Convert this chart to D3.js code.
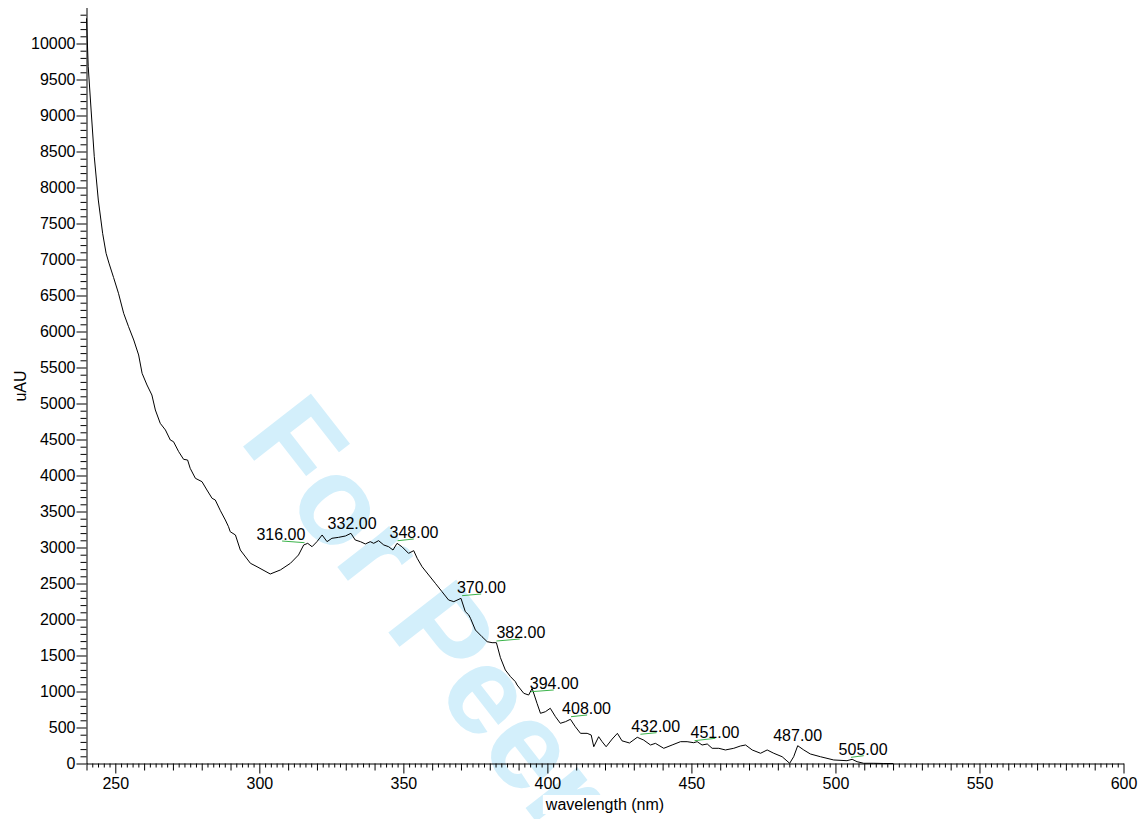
<!DOCTYPE html>
<html>
<head>
<meta charset="utf-8">
<script src="https://cdn.jsdelivr.net/npm/d3@7"></script>
<style>
  html, body { margin: 0; padding: 0; background: #fff; }
  svg { display: block; }
  text { font-family: "Liberation Sans", Arial, sans-serif; }
</style>
</head>
<body>
<svg id="chart" width="1143" height="819"></svg>
<script>
// ---- data ----
const wavelength = [
  240.0, 240.6, 241.6, 242.7, 244.1, 245.6, 246.8, 247.8, 249.4, 251.1,
  252.9, 254.6, 256.4, 258.1, 259.3, 261.0, 262.7, 263.9, 265.6, 267.4,
  269.1, 270.2, 272.0, 273.7, 275.1, 276.0, 277.8, 280.1, 281.8, 283.6,
  284.7, 286.5, 288.2, 289.3, 289.9, 291.7, 293.4, 296.9, 299.2, 303.8,
  307.3, 310.8, 313.6, 315.4, 316.8, 318.3, 320.0, 321.8, 323.5, 325.2,
  327.5, 329.9, 331.8, 333.3, 335.1, 336.8, 338.5, 339.7, 341.4, 343.2,
  344.9, 346.4, 347.8, 349.5, 351.8, 353.6, 354.8, 356.5, 358.8, 361.1,
  363.4, 365.7, 367.5, 370.0, 371.5, 372.7, 373.3, 375.0, 377.3, 379.1,
  380.8, 382.3, 383.7, 385.4, 387.2, 388.9, 389.5, 391.8, 393.5, 394.7,
  396.4, 397.6, 399.3, 401.0, 402.8, 404.5, 406.3, 408.0, 409.7, 411.5,
  413.8, 415.2, 416.1, 417.8, 419.0, 420.4, 422.5, 424.3, 425.9, 428.5,
  431.2, 433.4, 435.8, 437.5, 440.4, 443.3, 446.2, 448.5, 450.8, 452.0,
  453.7, 455.5, 457.2, 459.5, 461.8, 464.7, 467.0, 468.8, 471.1, 474.0,
  476.3, 478.6, 481.5, 484.1, 485.5, 486.9, 489.0, 491.3, 494.8, 499.4,
  504.0, 505.8, 507.5, 509.8, 513.3, 516.8, 520.0
];
const absorbance = [
  10350, 9678, 9076, 8428, 7826, 7364, 7086, 6950, 6750, 6531,
  6253, 6067, 5882, 5674, 5419, 5257, 5118, 4910, 4725, 4632,
  4493, 4470, 4331, 4225, 4215, 4100, 3961, 3914, 3799, 3683,
  3660, 3510, 3382, 3289, 3219, 3174, 2965, 2781, 2733, 2632,
  2688, 2781, 2896, 3035, 3058, 3011, 3081, 3174, 3081, 3128,
  3141, 3160, 3197, 3104, 3081, 3049, 3081, 3058, 3095, 3035,
  3011, 2965, 3058, 3011, 2919, 2956, 2850, 2733, 2618, 2503,
  2387, 2271, 2248, 2294, 2110, 2063, 2017, 1854, 1761, 1692,
  1678, 1678, 1470, 1299, 1206, 1136, 1090, 975, 951, 1044,
  836, 697, 719, 767, 650, 558, 581, 614, 511, 419,
  419, 396, 233, 372, 303, 233, 340, 419, 315, 285,
  364, 326, 257, 280, 211, 257, 303, 303, 289, 303,
  257, 271, 211, 211, 188, 211, 243, 257, 188, 142,
  188, 142, 94, 3, 94, 247, 188, 132, 94, 49,
  39, 58, 25, 3, 3, 0, 0
];

// peak labels: text, label anchor (wavelength, uAU) of text start/baseline
const peakLabels = ["316.00", "332.00", "348.00", "370.00", "382.00", "394.00", "408.00", "432.00", "451.00", "487.00", "505.00"];
const labelNm    = [299.0, 323.7, 345.2, 368.6, 382.3, 393.9, 405.1, 429.1, 449.7, 478.4, 501.1];
const labelVal   = [3104, 3253, 3128, 2364, 1739, 1035, 688, 433, 350, 313, 118];

// green baseline marks under the labels: [nm1, v1, nm2, v2]
const baseNm1 = [307.9, 348.0, 370.4, 382.3, 394.3, 408.2, 432.3, 451.1, 505.4];
const baseV1  = [3090, 3094, 2331, 1701, 997, 650, 406, 317, 86];
const baseNm2 = [315.7, 353.6, 377.0, 390.4, 402.2, 413.8, 437.9, 458.3, 509.8];
const baseV2  = [3067, 3118, 2354, 1729, 1021, 674, 428, 350, 108];

const xMajorTicks = d3.range(250, 601, 50);
const yMajorTicks = d3.range(0, 10001, 500);

// ---- chart ----
const svg = d3.select("#chart");
const x = d3.scaleLinear().domain([240, 600]).range([86.5, 1123.5]);
const y = d3.scaleLinear().domain([0, 10500]).range([763.5, 7.5]);

// watermark (behind everything)
svg.append("text")
  .attr("transform", "translate(238,440) rotate(52)")
  .attr("font-size", 125)
  .attr("font-weight", "bold")
  .attr("fill", "#d3effb")
  .text("For Peer");

// y axis minor ticks
const yMinor = d3.range(0, 10501, 100).filter(v => v % 500 !== 0);
svg.append("g")
  .attr("transform", `translate(${x(240)},0)`)
  .call(d3.axisLeft(y).tickValues(yMinor).tickSize(6).tickFormat("").tickSizeOuter(0))
  .call(g => g.select(".domain").remove());

// y axis major
svg.append("g")
  .attr("transform", `translate(${x(240)},0)`)
  .call(d3.axisLeft(y).tickValues(yMajorTicks).tickSize(10).tickPadding(1).tickFormat(d3.format("d")).tickSizeOuter(0))
  .call(g => g.selectAll("text").attr("font-size", 16).attr("fill", "#000").style("font-family", '"Liberation Sans", Arial, sans-serif'));

// x axis minor (every 2) and medium (every 10)
const xMinor = d3.range(240, 601, 2).filter(v => v % 10 !== 0);
const xMed = d3.range(240, 601, 10).filter(v => v % 50 !== 0);
svg.append("g")
  .attr("transform", `translate(0,${y(0)})`)
  .call(d3.axisBottom(x).tickValues(xMinor).tickSize(4).tickFormat("").tickSizeOuter(0))
  .call(g => g.select(".domain").remove());
svg.append("g")
  .attr("transform", `translate(0,${y(0)})`)
  .call(d3.axisBottom(x).tickValues(xMed).tickSize(7).tickFormat("").tickSizeOuter(0))
  .call(g => g.select(".domain").remove());
svg.append("g")
  .attr("transform", `translate(0,${y(0)})`)
  .call(d3.axisBottom(x).tickValues(xMajorTicks).tickSize(10).tickPadding(4).tickFormat(d3.format("d")).tickSizeOuter(0))
  .call(g => g.selectAll("text").attr("font-size", 16).attr("fill", "#000").style("font-family", '"Liberation Sans", Arial, sans-serif'));

// axis titles
const xt = svg.append("g");
const xtText = xt.append("text")
  .attr("x", (x(240) + x(600)) / 2)
  .attr("y", 810)
  .attr("text-anchor", "middle")
  .attr("font-size", 16)
  .text("wavelength (nm)");
const bb = xtText.node().getBBox();
xt.insert("rect", "text")
  .attr("x", bb.x - 2).attr("y", bb.y - 1)
  .attr("width", bb.width + 4).attr("height", bb.height + 2)
  .attr("fill", "#fff");

svg.append("text")
  .attr("transform", "translate(26,386) rotate(-90)")
  .attr("text-anchor", "middle")
  .attr("font-size", 16)
  .text("uAU");

// spectrum line
const pts = wavelength.map((w, i) => [w, absorbance[i]]);
svg.append("path")
  .datum(pts)
  .attr("fill", "none")
  .attr("stroke", "#000")
  .attr("stroke-width", 1)
  .attr("d", d3.line().x(d => x(d[0])).y(d => y(d[1])));

// green baseline marks
svg.append("g").selectAll("line")
  .data(baseNm1.map((n, i) => i))
  .join("line")
  .attr("x1", i => x(baseNm1[i])).attr("y1", i => y(baseV1[i]))
  .attr("x2", i => x(baseNm2[i])).attr("y2", i => y(baseV2[i]))
  .attr("stroke", "#3cb44b")
  .attr("stroke-width", 1);

// peak labels
svg.append("g").selectAll("text")
  .data(peakLabels.map((t, i) => i))
  .join("text")
  .attr("x", i => x(labelNm[i]))
  .attr("y", i => y(labelVal[i]))
  .attr("font-size", 16)
  .attr("fill", "#000")
  .text(i => peakLabels[i]);
</script>
</body>
</html>
